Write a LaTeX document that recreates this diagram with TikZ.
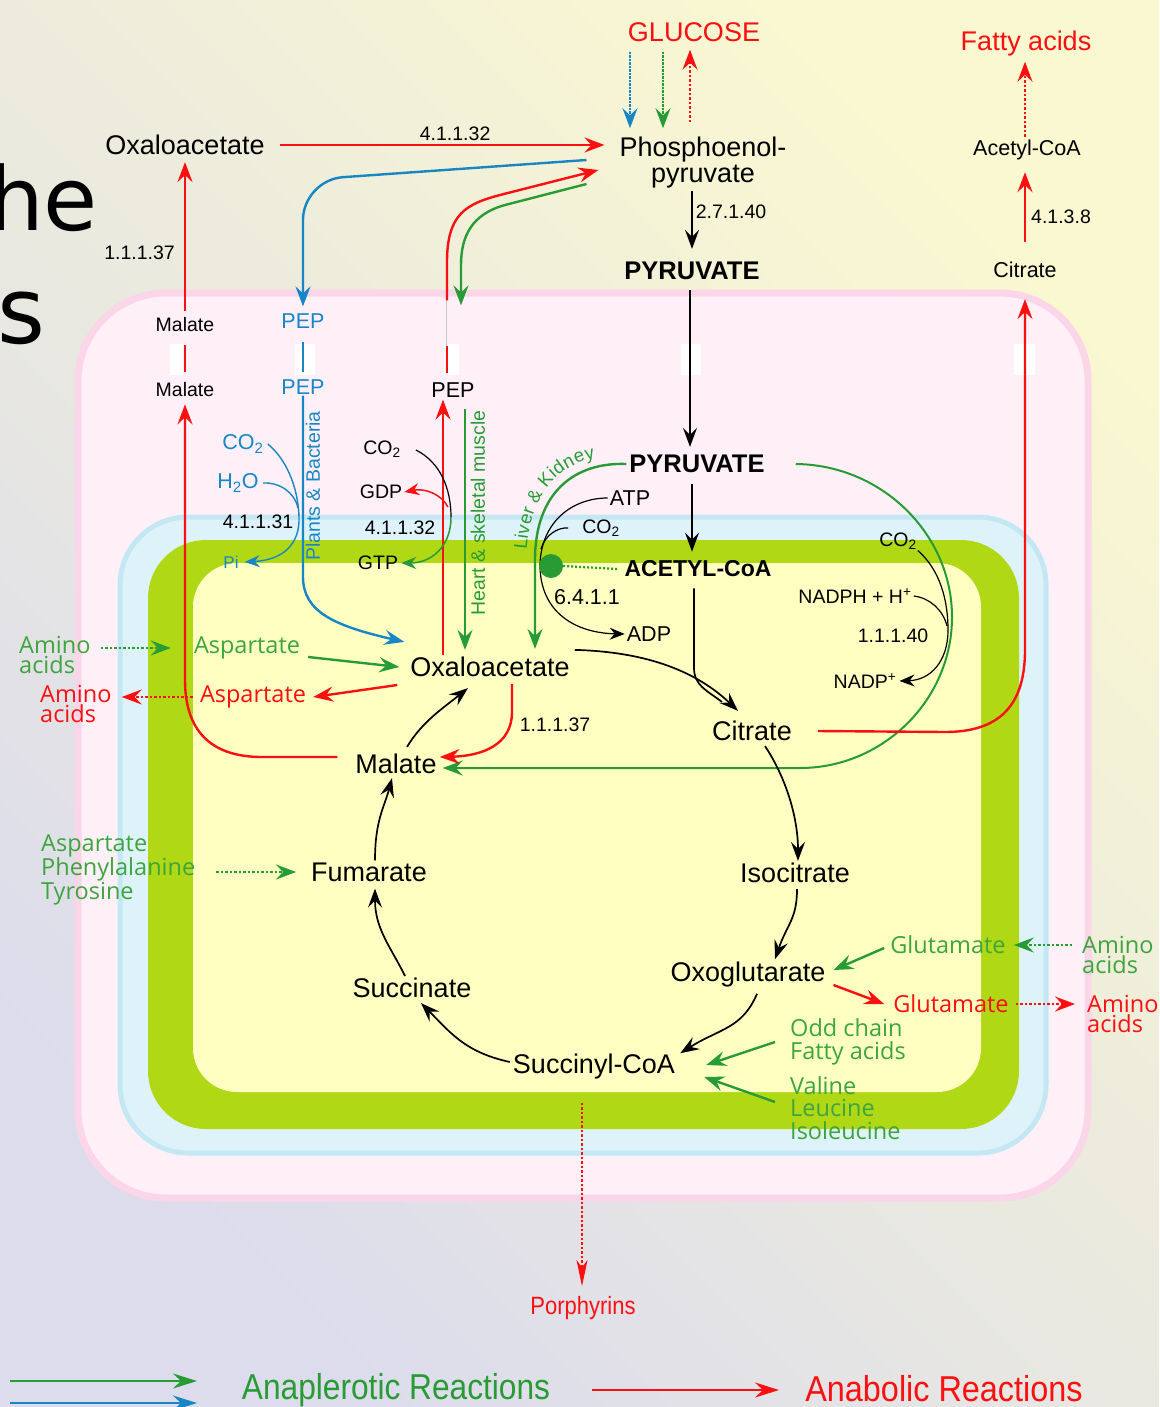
\documentclass[tikz,border=0pt]{standalone}
\usepackage{fontspec}
\setmainfont{Liberation Sans}
\newfontfamily\aafont{Open Sans}
\newfontfamily\bigfont{DejaVu Sans}
\usetikzlibrary{arrows.meta,positioning,calc,decorations.text}

\definecolor{tcared}{RGB}{250,16,16}
\definecolor{tcagreen}{RGB}{40,155,52}
\definecolor{aagreen}{RGB}{62,165,62}
\definecolor{tcablue}{RGB}{24,134,196}
\definecolor{matrixY}{RGB}{255,255,194}
\definecolor{innerG}{RGB}{176,216,20}
\definecolor{spaceB}{RGB}{222,242,250}
\definecolor{spaceBd}{RGB}{196,232,243}
\definecolor{outerP}{RGB}{255,240,247}
\definecolor{outerPd}{RGB}{250,214,232}
\definecolor{bgY}{RGB}{250,248,208}
\definecolor{bgL}{RGB}{220,220,236}

\tikzset{
  met/.style={font=\fontsize{27}{26}\selectfont, inner sep=1pt},
  metB/.style={font=\fontsize{25.5}{27}\selectfont\bfseries, inner sep=1pt},
  enz/.style={font=\fontsize{19.5}{21}\selectfont, inner sep=1pt},
  cof/.style={font=\fontsize{21.5}{23}\selectfont, inner sep=1pt},
  aa/.style={font=\aafont\fontsize{23.5}{20}\selectfont, inner sep=1pt, align=left},
  arrowK/.style={-{Stealth[length=19pt,width=14pt,inset=7pt]}, line width=1.7pt, draw=black},
  arrowR/.style={-{Stealth[length=20pt,width=15pt,inset=7pt]}, line width=2.4pt, draw=tcared},
  arrowG/.style={-{Stealth[length=20pt,width=15pt,inset=7pt]}, line width=2.4pt, draw=tcagreen},
  arrowB/.style={-{Stealth[length=20pt,width=15pt,inset=7pt]}, line width=2.4pt, draw=tcablue},
  lineK/.style={line width=1.7pt, draw=black},
  lineR/.style={line width=2.4pt, draw=tcared},
  lineB/.style={line width=2pt, draw=tcablue},
  thinK/.style={line width=1.2pt, draw=black},
  thinB/.style={line width=1.4pt, draw=tcablue},
  smallTip/.style={-{Stealth[length=15pt,width=12pt,inset=5pt]}},
  dotR/.style={arrowR, line width=2pt, dash pattern=on 2.5pt off 2pt},
  dotG/.style={arrowG, line width=2pt, dash pattern=on 2.5pt off 2pt},
  dotB/.style={arrowB, line width=2pt, dash pattern=on 2.5pt off 1pt},
  legendTip/.style={-{Stealth[length=24pt,width=15pt,inset=8pt]}, line width=2.4pt}
}

\begin{document}
\begin{tikzpicture}[x=1pt, y=-1pt]
  \useasboundingbox (0,0) rectangle (1159,1407);
  \shade[top color=bgY, bottom color=bgL, shading angle=-45] (0,0) rectangle (1159,1407);

  % slide title fragments
  \node[font=\bigfont\fontsize{88}{88}\selectfont, anchor=base west, inner sep=0] (ttlHe) at (-12,230) {he};
  \node[font=\bigfont\fontsize{92}{92}\selectfont, anchor=base west, inner sep=0] (ttlS) at (-3,343) {s};

  % compartments
  \draw[line width=7pt, draw=outerPd, fill=outerP, rounded corners=88pt] (78,293) rectangle (1088,1198);
  \draw[line width=5pt, draw=spaceBd, fill=spaceB, rounded corners=68pt] (120,517) rectangle (1046,1153);
  \fill[innerG, rounded corners=58pt] (148,540) rectangle (1019,1129);
  \fill[matrixY, rounded corners=44pt] (193,563) rectangle (981,1092);
  \foreach \xa/\xb in {170/183, 295/315, 444/459, 681/701, 1014/1035}
    \fill[white] (\xa,344) rectangle (\xb,375);

  % cytosol
  \node[met, text=tcared] (glc) at (694,32) {GLUCOSE};
  \node[met] (oaaC) at (185,145) {Oxaloacetate};
  \node[met, align=center] (pepC) at (703,163) {Phosphoenol-\\pyruvate};
  \node[metB] (pyrC) at (692,271) {PYRUVATE};
  \node[met, text=tcared] (fa) at (1026,44) {Fatty acids};
  \node[cof] (acoaC) at (1027,150) {Acetyl-CoA};
  \node[cof] (citC) at (1025,270) {Citrate};

  % carriers
  \node[enz] (malO) at (185,325) {Malate};
  \node[enz] (malI) at (185,390) {Malate};
  \node[cof, text=tcablue] (pepO) at (303,321) {PEP};
  \node[cof, text=tcablue] (pepI) at (303,387) {PEP};
  \node[cof] (pepM) at (453,390) {PEP};

  % matrix
  \node[metB] (pyrM) at (697,464) {PYRUVATE};
  \node[metB, font=\fontsize{23}{24}\selectfont\bfseries] (acoa) at (698,569) {ACETYL-CoA};
  \node[met] (oaa) at (490,667) {Oxaloacetate};
  \node[met] (cit) at (752,731) {Citrate};
  \node[met] (mal) at (396,764) {Malate};
  \node[met] (fum) at (369,872) {Fumarate};
  \node[met] (icit) at (795,873) {Isocitrate};
  \node[met] (akg) at (748,975) {Oxoglutarate};
  \node[met] (suc) at (412,988) {Succinate};
  \node[met] (scoa) at (594,1067) {Succinyl-CoA};

  % cofactors and enzymes
  \node[cof, text=tcablue] (co2a) at (243,444) {CO\textsubscript{2}};
  \node[cof, text=tcablue] (h2o) at (238,483) {H\textsubscript{2}O};
  \node[enz] (e4131) at (258,522) {4.1.1.31};
  \node[enz, text=tcablue, font=\fontsize{17}{18}\selectfont] (pi) at (231,562) {Pi};
  \node[enz, text=tcablue, rotate=90] (plants) at (313,486) {Plants \& Bacteria};
  \node[enz] (co2b) at (382,449) {CO\textsubscript{2}};
  \node[enz] (gdp) at (381,492) {GDP};
  \node[enz] (e4132) at (400,528) {4.1.1.32};
  \node[enz] (gtp) at (378,563) {GTP};
  \node[enz, text=tcagreen, rotate=90] (heart) at (478,513) {Heart \& skeletal muscle};
  \node[cof] (atp) at (630,498) {ATP};
  \node[enz] (co2c) at (601,528) {CO\textsubscript{2}};
  \node[cof] (e6411) at (587,597) {6.4.1.1};
  \node[cof] (adp) at (649,634) {ADP};
  \node[enz] (co2d) at (898,541) {CO\textsubscript{2}};
  \node[enz] (nadph) at (855,596) {NADPH + H\textsuperscript{+}};
  \node[enz] (e11140) at (893,636) {1.1.1.40};
  \node[enz] (nadp) at (865,681) {NADP\textsuperscript{+}};
  \node[enz] (e11137) at (555,725) {1.1.1.37};

  % amino acids and other feeders
  \node[aa, text=aagreen, anchor=west] (aaG1) at (18,655) {Amino\\acids};
  \node[aa, text=aagreen] (aspG) at (247,648) {Aspartate};
  \node[aa, text=tcared, anchor=west] (aaR1) at (39,704) {Amino\\acids};
  \node[aa, text=tcared] (aspR) at (253,697) {Aspartate};
  \node[aa, text=aagreen, anchor=west, font=\aafont\fontsize{23.5}{22}\selectfont] (aromat) at (40,870) {Aspartate\\Phenylalanine\\Tyrosine};
  \node[aa, text=aagreen] (gluG) at (948,945) {Glutamate};
  \node[aa, text=aagreen, anchor=west] (aaG2) at (1081,955) {Amino\\acids};
  \node[aa, text=tcared] (gluR) at (951,1004) {Glutamate};
  \node[aa, text=tcared, anchor=west] (aaR2) at (1086,1014) {Amino\\acids};
  \node[aa, text=aagreen, anchor=west, font=\aafont\fontsize{23.5}{23}\selectfont] (odd) at (789,1042) {Odd chain\\Fatty acids};
  \node[aa, text=aagreen, anchor=west, font=\aafont\fontsize{23.5}{22.5}\selectfont] (bcaa) at (789,1108) {Valine\\Leucine\\Isoleucine};
  \node[font=\fontsize{25}{25}\selectfont, text=tcared, inner sep=1pt] (porph) at (583,1308) {\scalebox{0.88}[1]{Porphyrins}};

  % glucose
  \draw[dotB] ([xshift=-64pt,yshift=-9pt]glc.south) -- ([xshift=-73pt,yshift=8pt]pepC.north);
  \draw[dotG, dash pattern=on 2.5pt off 1pt] ([xshift=-31pt,yshift=-9pt]glc.south) -- ([xshift=-40pt,yshift=8pt]pepC.north);
  \draw[dotR] ([xshift=-13pt,yshift=14pt]pepC.north) -- ([xshift=-4pt,yshift=-7pt]glc.south);

  % cytosolic reactions
  \draw[arrowR] ([xshift=14pt]oaaC.east) -- ([xshift=-14pt]oaaC.east -| pepC.west)
    node[enz, above=2pt, pos=0.54] {4.1.1.32};
  \draw[arrowK] ([xshift=-11pt,yshift=-1pt]pepC.south) -- ([yshift=12pt]pyrC.north)
    node[enz, right=2pt, pos=0.36] {2.7.1.40};
  \draw[arrowR] ([yshift=6pt]malO.north) -- ([yshift=-6pt]oaaC.south)
    node[enz, left=8pt, pos=0.39] {1.1.1.37};
  \draw[arrowR] ([yshift=19pt]citC.north) -- ([yshift=-11pt]citC.north |- acoaC.south)
    node[enz, right=4pt, pos=0.36] {4.1.3.8};
  \draw[dotR] ([yshift=2pt]citC.north |- acoaC.north) -- ([yshift=-4pt]citC.north |- fa.south);

  % PEP shuttles
  \draw[arrowB, rounded corners=40pt] ([shift={(-32pt,3pt)}]pepC.west) -- (303,180) -- ([yshift=6pt]pepO.north);
  \draw[lineB, shorten <=15pt, shorten >=21pt] (pepI.center) -- (pepO.center);
  \draw[arrowB] (pepI.south) -- (303,577) .. controls (303,612) and (335,626) .. ([shift={(-5pt,14pt)}]oaa.north west);
  \draw[lineR] ([xshift=-6pt,yshift=8pt]pepM.north) -- ([xshift=-6pt,yshift=35pt]pepM.north);
  \draw[gray!45, line width=1pt] ([xshift=-7pt,yshift=35pt]pepM.north) -- ([xshift=-7pt,yshift=81pt]pepM.north);
  \draw[arrowR] ([xshift=-6pt,yshift=81pt]pepM.north) -- (447,262) .. controls (447,214) and (466,204) .. (500,195)
    -- ([shift={(-20pt,-7pt)}]pepC.west);
  \draw[arrowG] ([shift={(-32pt,-21pt)}]pepC.west) -- (505,205) .. controls (472,214) and (461,236) .. (461,265)
    -- ([xshift=8pt,yshift=76pt]pepM.north);
  \draw[arrowR] ([xshift=-47pt,yshift=1pt]oaa.north) -- ([xshift=-10pt,yshift=-1pt]pepM.south);
  \draw[arrowG] ([xshift=12pt,yshift=-10pt]pepM.south) -- ([xshift=-25pt,yshift=6pt]oaa.north);

  % malate shuttle
  \draw[lineR, shorten <=18pt, shorten >=20pt] (malI.center) -- (malO.center);
  \draw[arrowR] ([shift={(-17pt,7pt)}]mal.west) -- (262,757) .. controls (210,757) and (185,730) .. (185,680)
    -- ([yshift=-6pt]malI.south);

  % PEP carboxylases
  \draw[thinB] ([xshift=3pt]co2a.east) .. controls (285,458) and (298,485) .. (299,517) coordinate (piJ);
  \draw[thinB] ([xshift=3pt]h2o.east) .. controls (280,482) and (295,493) .. (298,508);
  \draw[thinB, smallTip] (piJ) .. controls (300,545) and (282,560) .. ([xshift=5pt]pi.east);
  \draw[thinK] ([shift={(14pt,-1pt)}]co2b.east) .. controls (440,462) and (451,488) .. (451,517) coordinate (gtpJ);
  \draw[smallTip, line width=1.5pt, tcared] (448,507) .. controls (441,494) and (425,488) .. ([xshift=1pt]gdp.east);
  \draw[smallTip, line width=1.5pt, tcagreen] (gtpJ) .. controls (451,548) and (430,563) .. ([xshift=2pt]gtp.east);

  % pyruvate
  \draw[arrowK] ([xshift=-2pt,yshift=-9pt]pyrC.south) -- ([xshift=-7pt,yshift=7pt]pyrM.north);
  \draw[arrowK] ([xshift=-5pt,yshift=-10pt]pyrM.south) -- ([xshift=-6pt,yshift=8pt]acoa.north);
  \draw[arrowG] ([xshift=-2pt]pyrM.west) .. controls (575,462) and (535,492) .. (535,560)
    -- ([shift={(45pt,7pt)}]oaa.north);
  \path[decorate, decoration={text along path, text align=center, raise=4pt,
      text={|\fontsize{18.5}{20}\selectfont\color{tcagreen}|Liver {\&} Kidney}}]
    (530,566) .. controls (530,492) and (565,462) .. (612,460);
  \draw[thinK, smallTip] ([xshift=-1pt]atp.west) .. controls (572,498) and (541,522) .. (540,565)
    .. controls (540,612) and (575,633) .. ([xshift=-1pt]adp.west);
  \draw[thinK] ([xshift=-13pt]co2c.west) .. controls (558,527) and (545,535) .. (541,549);
  \node[circle, fill=tcagreen, minimum size=24pt, inner sep=0] (dotN) at (551,566) {};
  \draw[tcagreen, line width=2.2pt, dash pattern=on 2pt off 2pt] (dotN.east) -- ([xshift=-6pt]acoa.west);

  % malic enzyme
  \draw[thinK] (co2d.south east) .. controls (940,570) and (948,600) .. (948,630) coordinate (nadpJ);
  \draw[thinK, smallTip] (nadpJ) .. controls (948,662) and (930,680) .. ([xshift=2pt]nadp.east);
  \draw[thinK] ([xshift=1pt]nadph.east) .. controls (930,598) and (943,610) .. (947,626);
  \draw[arrowG, line width=2pt] ([xshift=30pt]pyrM.east) .. controls (883,465) and (952,535) .. (952,617)
    .. controls (952,700) and (883,768) .. (800,768) -- ([shift={(5pt,-4pt)}]mal.east);

  % citrate export
  \draw[arrowR] ([xshift=25pt]cit.east) -- (945,732) .. controls (1000,732) and (1025,705) .. (1025,650)
    -- ([yshift=-20pt]citC.south);

  % cycle
  \draw[lineK] ([xshift=-4pt,yshift=-10pt]acoa.south) -- (694,668) .. controls (694,686) and (708,691) .. (722,702);
  \draw[arrowK] ([shift={(4pt,6pt)}]oaa.north east) .. controls +(75,2) and +(-40,-38) .. ([shift={(-14pt,9pt)}]cit.north);
  \draw[arrowK] ([shift={(13pt,-4pt)}]cit.south) .. controls +(20,30) and +(0,-45) .. ([shift={(3pt,1pt)}]icit.north);
  \draw[arrowK] ([shift={(2pt,-5pt)}]icit.south) .. controls +(0,30) and +(12,-35) .. ([shift={(27pt,2pt)}]akg.north);
  \draw[arrowK] ([shift={(9pt,-5pt)}]akg.south) .. controls +(-15,35) and +(40,-25) .. ([shift={(4pt,0pt)}]scoa.north east);
  \draw[arrowK] ([shift={(-2pt,5pt)}]scoa.west) .. controls +(-45,-10) and +(30,30) .. ([shift={(9pt,-4pt)}]suc.south);
  \draw[arrowK] ([shift={(-7pt,1pt)}]suc.north) .. controls +(-15,-30) and +(0,40) .. ([shift={(6pt,-6pt)}]fum.south);
  \draw[arrowK] ([shift={(6pt,1pt)}]fum.north) .. controls +(0,-40) and +(-8,30) .. ([shift={(-4pt,-3pt)}]mal.south);
  \draw[arrowK] ([shift={(11pt,6pt)}]mal.north) .. controls +(15,-25) and +(-25,20) .. ([shift={(-22pt,-10pt)}]oaa.south);
  \draw[arrowR] ([xshift=22pt,yshift=-6pt]oaa.south) -- (512,712) .. controls (512,745) and (482,756) .. ([shift={(2pt,7pt)}]mal.east);

  % amino acid exchange
  \draw[dotG] ([xshift=9pt]aaG1.east |- aspG.west) -- ([xshift=-22pt]aspG.west);
  \draw[arrowG] ([shift={(7pt,-9pt)}]aspG.east) -- ([xshift=-10pt]oaa.west);
  \draw[arrowR] ([shift={(-12pt,-18pt)}]oaa.west) -- ([xshift=6pt]aspR.east);
  \draw[dotR] ([xshift=-6pt]aspR.west) -- ([xshift=9pt]aaR1.east |- aspR.west);
  \draw[dotG] ([xshift=20pt]aromat.east |- fum.west) -- ([xshift=-14pt]fum.west);
  \draw[dotG] ([xshift=-9pt]aaG2.west |- gluG.east) -- ([xshift=7pt]gluG.east);
  \draw[arrowG] ([shift={(-5pt,-3pt)}]gluG.west) -- ([shift={(7pt,5pt)}]akg.east);
  \draw[arrowR] ([shift={(7pt,-10pt)}]akg.east) -- ([xshift=-8pt]gluR.west);
  \draw[dotR] ([xshift=6pt]gluR.east) -- ([xshift=-11pt]aaR2.west |- gluR.east);
  \draw[arrowG] ([xshift=-14pt]odd.west) -- ([shift={(30pt,2pt)}]scoa.east);
  \draw[arrowG] ([shift={(-14pt,6pt)}]bcaa.west) -- ([shift={(28pt,-10pt)}]scoa.east);
  \draw[dotR, -{Stealth[length=26pt,width=11pt,inset=7pt]}] ([shift={(-12pt,-22pt)}]scoa.south) -- ([shift={(-1pt,9pt)}]porph.north);

  % legend
  \coordinate (lgG1) at (10,1381);
  \coordinate (lgG2) at (197,1381);
  \coordinate (lgB1) at (10,1403);
  \coordinate (lgB2) at (197,1403);
  \coordinate (lgR1) at (592,1390);
  \coordinate (lgR2) at (779,1390);
  \draw[legendTip, tcagreen] (lgG1) -- (lgG2);
  \draw[legendTip, tcablue] (lgB1) -- (lgB2);
  \draw[legendTip, tcared] (lgR1) -- (lgR2);
  \node[font=\fontsize{36}{36}\selectfont, text=tcagreen, inner sep=0] (lgAna) at (396,1390) {\scalebox{0.88}[1]{Anaplerotic Reactions}};
  \node[font=\fontsize{36}{36}\selectfont, text=tcared, inner sep=0] (lgAnab) at (944,1389) {\scalebox{0.9}[1]{Anabolic Reactions}};
\end{tikzpicture}
\end{document}
